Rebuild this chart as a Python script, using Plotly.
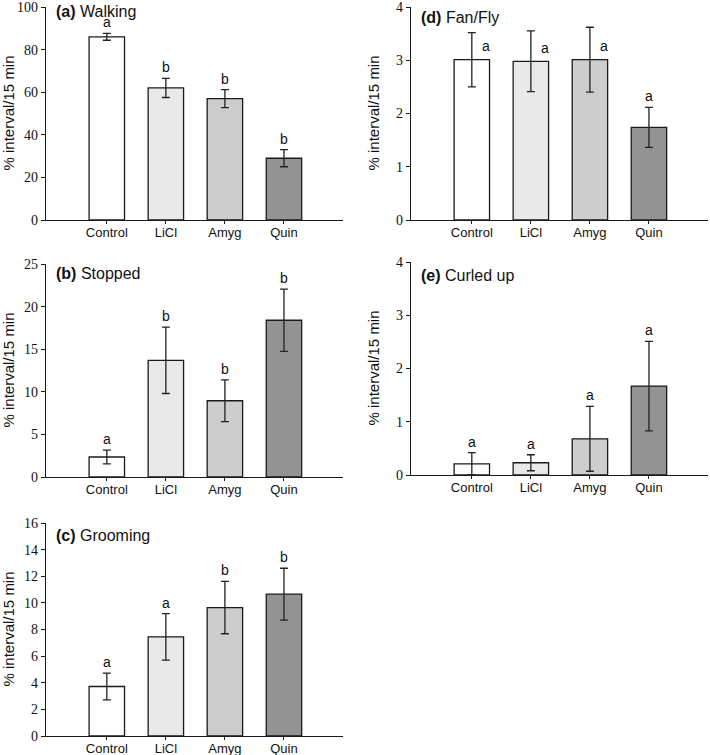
import plotly.graph_objects as go

categories = ["Control", "LiCl", "Amyg", "Quin"]
bar_colors = ["#ffffff", "#e9e9e9", "#cdcdcd", "#939393"]

walking_mean = [86.0, 62.0, 57.0, 29.0]
walking_err = [1.6, 4.5, 4.2, 4.0]
walking_letters = ["a", "b", "b", "b"]

stopped_mean = [2.35, 13.7, 8.95, 18.4]
stopped_err = [0.8, 3.9, 2.45, 3.65]
stopped_letters = ["a", "b", "b", "b"]

grooming_mean = [3.72, 7.45, 9.65, 10.65]
grooming_err = [1.0, 1.75, 1.97, 1.95]
grooming_letters = ["a", "a", "b", "b"]

fanfly_mean = [3.01, 2.98, 3.01, 1.74]
fanfly_err = [0.51, 0.57, 0.61, 0.375]
fanfly_letters = ["a", "a", "a", "a"]

curled_mean = [0.21, 0.23, 0.68, 1.67]
curled_err = [0.21, 0.15, 0.61, 0.84]
curled_letters = ["a", "a", "a", "a"]

W, H = 710, 755

def px_x(a, b):
    return [a / W, b / W]

def px_y(top, bottom):
    return [1 - bottom / H, 1 - top / H]

panels = [
    # (label, title, mean, err, letters, ymax, step, xdom, ydom, title offset px, letters beside)
    ("(a)", "Walking", walking_mean, walking_err, walking_letters, 100, 20, px_x(46, 343), px_y(7, 220), 4, False),
    ("(b)", "Stopped", stopped_mean, stopped_err, stopped_letters, 25, 5, px_x(46, 343), px_y(264, 477), 9, False),
    ("(c)", "Grooming", grooming_mean, grooming_err, grooming_letters, 16, 2, px_x(46, 343), px_y(523, 736), 12, False),
    ("(d)", "Fan/Fly", fanfly_mean, fanfly_err, fanfly_letters, 4, 1, px_x(411, 708), px_y(7, 220), 10, True),
    ("(e)", "Curled up", curled_mean, curled_err, curled_letters, 4, 1, px_x(411, 708), px_y(262, 475), 13, False),
]

fig = go.Figure()
annotations = []
layout = {}
sans = "Liberation Sans, Arial, sans-serif"
serif = "Liberation Serif, Times New Roman, serif"

for i, (lab, title, mean, err, letters, ymax, step, xdom, ydom, toff, beside) in enumerate(panels):
    n = "" if i == 0 else str(i + 1)
    xa, ya = "x" + n, "y" + n
    plot_h = (ydom[1] - ydom[0]) * H
    fig.add_trace(go.Bar(
        x=list(range(len(categories))), y=mean,
        xaxis=xa, yaxis=ya, width=0.6,
        marker=dict(color=bar_colors, line=dict(color="#1a1a1a", width=1.3)),
        error_y=dict(type="data", array=err, visible=True, color="#222222", thickness=1.3, width=4),
        showlegend=False, hoverinfo="skip",
    ))
    layout["xaxis" + n] = dict(
        domain=xdom, anchor=ya, range=[-1.03, 4.0], automargin=False,
        tickvals=list(range(len(categories))), ticktext=categories,
        showline=True, linecolor="#1a1a1a", linewidth=1.3,
        ticks="outside", ticklen=3, tickcolor="#1a1a1a",
        showgrid=False, zeroline=False, fixedrange=True,
        ticklabeloverflow="allow", ticklabelstandoff=-3,
        tickfont=dict(family=sans, size=13, color="#111111"),
    )
    layout["yaxis" + n] = dict(
        domain=ydom, anchor=xa, range=[0, ymax], automargin=False,
        tickvals=[k * step for k in range(int(ymax / step) + 1)],
        showline=True, linecolor="#1a1a1a", linewidth=1.3,
        ticks="outside", ticklen=4, tickcolor="#1a1a1a",
        showgrid=False, zeroline=False, fixedrange=True,
        ticklabeloverflow="allow",
        tickfont=dict(family=serif, size=14, color="#111111"),
    )
    # panel title
    annotations.append(dict(
        text="<b>" + lab + "</b> " + title, xref=xa + " domain", yref=ya + " domain",
        x=0.027, y=1 - toff / plot_h, xanchor="left", yanchor="middle", showarrow=False,
        font=dict(family=sans, size=16, color="#111111"),
    ))
    # y-axis title
    annotations.append(dict(
        text="% interval/15 min", xref="paper", yref=ya + " domain",
        x=(xdom[0] * W - 38) / W, y=0.5, xanchor="center", yanchor="middle",
        textangle=-90, showarrow=False,
        font=dict(family=sans, size=15, color="#111111"),
    ))
    # significance letters
    for j, letter in enumerate(letters):
        if beside and j < 3:
            annotations.append(dict(
                text=letter, xref=xa, yref=ya, x=j, y=mean[j] + 0.25,
                xshift=14, xanchor="center", yanchor="middle", showarrow=False,
                font=dict(family=sans, size=14, color="#111111"),
            ))
        else:
            annotations.append(dict(
                text=letter, xref=xa, yref=ya, x=j, y=mean[j] + err[j],
                yshift=1, xanchor="center", yanchor="bottom", showarrow=False,
                font=dict(family=sans, size=14, color="#111111"),
            ))

fig.update_layout(
    width=W, height=H, margin=dict(l=0, r=0, t=0, b=0),
    paper_bgcolor="white", plot_bgcolor="white",
    annotations=annotations, bargap=0.4, **layout,
)
fig.write_html(
    "out.html",
    config={"displayModeBar": False, "staticPlot": True},
    post_script="document.body.style.margin='0';document.body.style.overflow='hidden';",
)
